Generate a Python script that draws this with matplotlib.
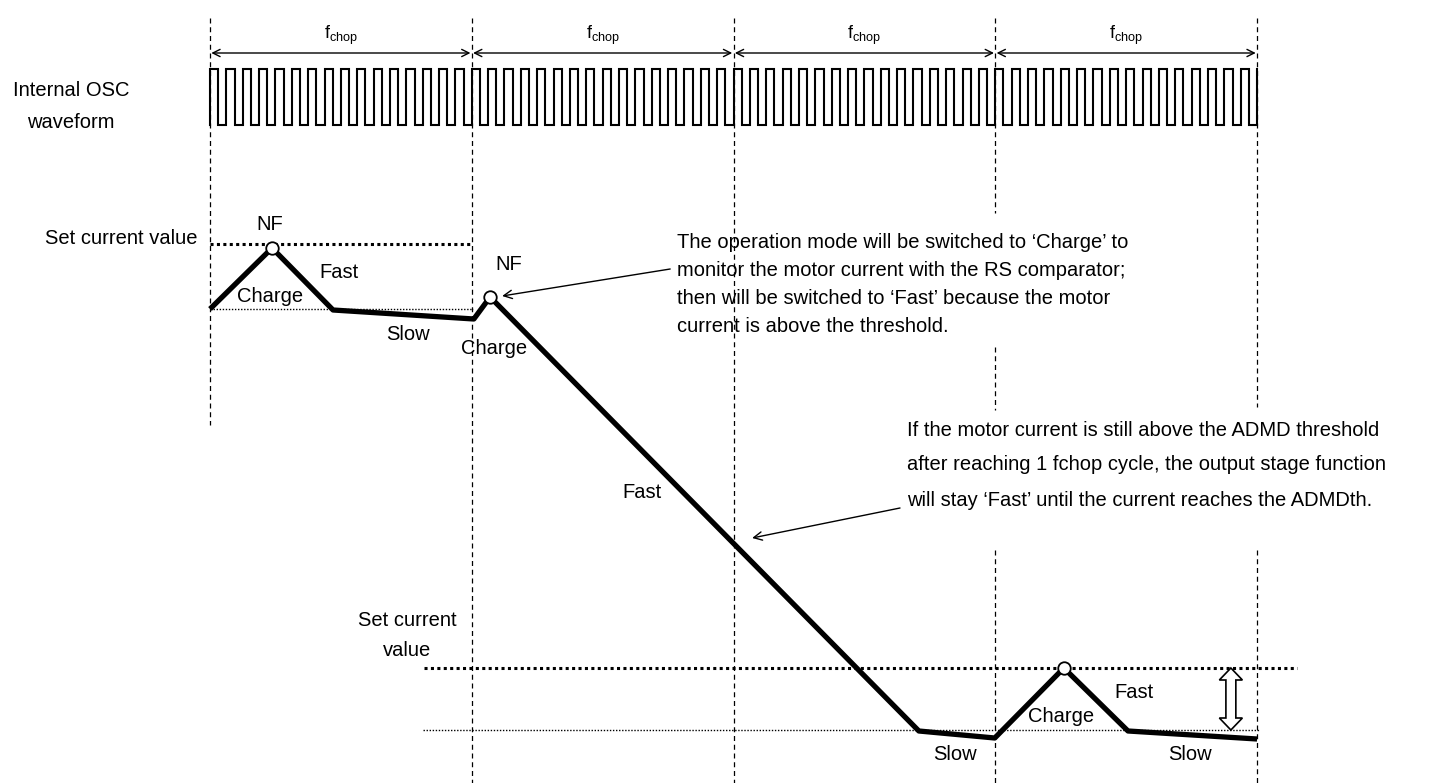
import numpy as np
import matplotlib.pyplot as plt
from matplotlib.patches import Polygon

plt.rcParams['font.family'] = ['Liberation Sans', 'DejaVu Sans']
plt.rcParams['mathtext.fontset'] = 'custom'
plt.rcParams['mathtext.rm'] = 'Liberation Sans'

# x: time in chopping periods (f_chop), y: current level in a.u.
n_chop = 4
osc_cycles_per_chop = 16
osc_high, osc_low = 661, 605

current_t = [0.0, 0.237, 0.470, 1.008, 1.070, 2.708, 2.998, 3.262, 3.507, 4.0]
current_i = [421, 482, 420, 411, 433, -1, -8, 62, -1, -9]
nf_t = [0.237, 1.070, 3.262]
nf_i = [482, 433, 62]

set_upper, valley_upper = 486, 421
set_lower, valley_lower = 62, 0

mode_labels = ['NF', 'Fast', 'Charge', 'Slow', 'NF', 'Charge', 'Fast',
               'Slow', 'Charge', 'Fast', 'Slow']
mode_t = [0.229, 0.493, 0.229, 0.756, 1.140, 1.085, 1.650,
          2.846, 3.251, 3.530, 3.744]
mode_i = [505, 458, 434, 395, 465, 382, 237,
          -24, 13, 37, -24]

note1 = ['The operation mode will be switched to \u2018Charge\u2019 to',
         'monitor the motor current with the RS comparator;',
         'then will be switched to \u2018Fast\u2019 because the motor',
         'current is above the threshold.']
note2 = ['If the motor current is still above the ADMD threshold',
         'after reaching 1 fchop cycle, the output stage function',
         'will stay \u2018Fast\u2019 until the current reaches the ADMDth.']

# dashed period boundaries: visible pieces (top, bottom)
boundary_segments = {
    0: [(712, 305)],
    1: [(712, -53)],
    2: [(712, -53)],
    3: [(712, 517), (383, 320), (180, -53)],
    4: [(712, 323), (180, -53)],
}

fig = plt.figure(figsize=(14.34, 7.83), dpi=100)
ax = fig.add_axes([0, 0, 1, 1])
ax.set_xlim(-0.8023, 4.676)
ax.set_ylim(-53, 730)
ax.axis('off')

for k, segs in boundary_segments.items():
    for top, bot in segs:
        ax.plot([k, k], [top, bot], color='black', lw=0.9, ls=(0, (4, 3)))

# internal oscillator square wave
half = 1.0 / (2 * osc_cycles_per_chop)
edges = np.arange(0, 2 * n_chop * osc_cycles_per_chop + 1) * half
osc_x = np.repeat(edges, 2)
osc_y = []
for k in range(len(edges)):
    osc_y += [osc_low, osc_high] if k % 2 == 0 else [osc_high, osc_low]
ax.plot(osc_x, osc_y, color='black', lw=1.5, solid_joinstyle='miter')

ax.text(-0.5313, 640, 'Internal OSC', ha='center', va='center', fontsize=14.5)
ax.text(-0.5313, 608, 'waveform', ha='center', va='center', fontsize=14.5)

# f_chop arrows
for k in range(n_chop):
    ax.annotate('', xy=(k + 0.995, 677), xytext=(k + 0.005, 677),
                arrowprops=dict(arrowstyle='<->', lw=1, color='black',
                                shrinkA=0, shrinkB=0, mutation_scale=13))
    ax.text(k + 0.5, 695, r'f$_{\mathrm{chop}}$', ha='center', va='center', fontsize=13)

# set-current and valley reference lines
ax.plot([0, 0.997], [set_upper, set_upper], color='black', lw=2.2, ls=(0, (1, 1.1)))
ax.plot([0, 1.005], [valley_upper, valley_upper], color='black', lw=1, ls=(0, (1, 1.2)))
ax.plot([0.817, 4.153], [set_lower, set_lower], color='black', lw=2.2, ls=(0, (1, 1.1)))
ax.plot([0.813, 4.013], [valley_lower, valley_lower], color='black', lw=1, ls=(0, (1, 1.2)))

ax.text(-0.0497, 492, 'Set current value', ha='right', va='center', fontsize=14.5)
ax.text(0.753, 110, 'Set current', ha='center', va='center', fontsize=14.5)
ax.text(0.753, 80, 'value', ha='center', va='center', fontsize=14.5)

# motor current
ax.plot(current_t, current_i, color='black', lw=3.8, solid_capstyle='butt', zorder=3)
ax.plot(nf_t, nf_i, 'o', ms=9, mfc='white', mec='black', mew=1.3, zorder=5)

for lab, t, i in zip(mode_labels, mode_t, mode_i):
    ax.text(t, i, lab, ha='center', va='center', fontsize=14.5)

# hollow double arrow between set current and valley
xc, hh, hs, hl = 3.90, 0.044, 0.019, 12
y0, y1 = set_lower, valley_lower
pts = [(xc, y0), (xc + hh, y0 - hl), (xc + hs, y0 - hl), (xc + hs, y1 + hl),
       (xc + hh, y1 + hl), (xc, y1), (xc - hh, y1 + hl), (xc - hs, y1 + hl),
       (xc - hs, y0 - hl), (xc - hh, y0 - hl)]
ax.add_patch(Polygon(pts, closed=True, facecolor='white', edgecolor='black', lw=1.2, zorder=4))

# notes
for n, line in enumerate(note1):
    ax.text(1.784, 487 - 28 * n, line, ha='left', va='center', fontsize=14.5)
for n, line in enumerate(note2):
    ax.text(2.663, 300 - 35 * n, line, ha='left', va='center', fontsize=14.5)

ax.annotate('', xy=(1.116, 434), xytext=(1.758, 461),
            arrowprops=dict(arrowstyle='->', lw=1, color='black',
                            shrinkA=0, shrinkB=0, mutation_scale=15))
ax.annotate('', xy=(2.071, 192), xytext=(2.636, 222),
            arrowprops=dict(arrowstyle='->', lw=1, color='black',
                            shrinkA=0, shrinkB=0, mutation_scale=15))

fig.savefig('out.png', dpi=100)
